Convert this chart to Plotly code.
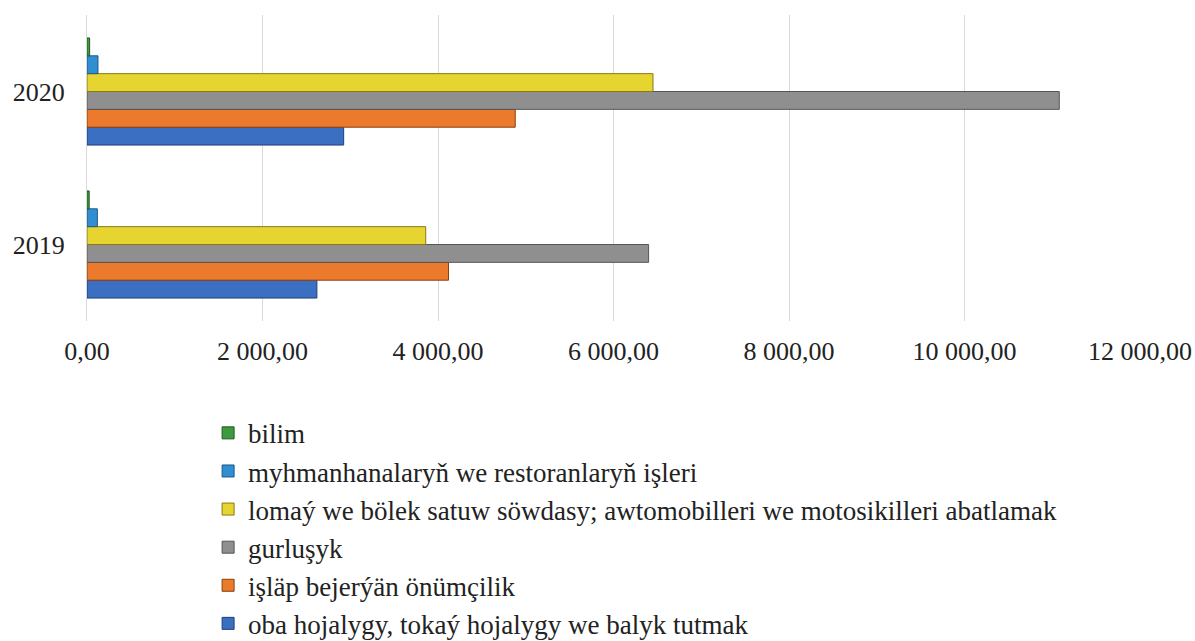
import plotly.graph_objects as go

years = ["2019", "2020"]
series_names = [
    "oba hojalygy, tokaý hojalygy we balyk tutmak",
    "işläp bejerýän önümçilik",
    "gurluşyk",
    "lomaý we bölek satuw söwdasy; awtomobilleri we motosikilleri abatlamak",
    "myhmanhanalaryň we restoranlaryň işleri",
    "bilim",
]
oba = [2620, 2925]
islap = [4120, 4880]
gurlusyk = [6400, 11080]
lomay = [3860, 6450]
myhman = [118, 125]
bilim = [25, 30]
series_values = [oba, islap, gurlusyk, lomay, myhman, bilim]
x_ticks = [0, 2000, 4000, 6000, 8000, 10000, 12000]

colors = ["#3b6fc2", "#ec7a2c", "#8f8f8f", "#e6d431", "#2f8fd0", "#3f9a3f"]
edges = ["#1f3f7a", "#8a3e0c", "#555555", "#8a7a10", "#1a5a8a", "#1f5a1f"]

SERIF = "Liberation Serif"

fig = go.Figure()
for i, (name, vals) in enumerate(zip(series_names, series_values)):
    fig.add_trace(go.Bar(
        y=years, x=vals, name=name, orientation="h",
        marker=dict(color=colors[i], line=dict(color=edges[i], width=1)),
        legendgroup=f"g{i}",
    ))

fig.update_layout(
    width=1195, height=660,
    margin=dict(l=87, r=55, t=15, b=335),
    barmode="group", bargap=0.3, bargroupgap=0,
    paper_bgcolor="white", plot_bgcolor="white",
    font=dict(family=SERIF, size=26, color="#222222"),
    separators=", ",
    showlegend=True,
    legend=dict(
        x=0.115, y=-0.287, xanchor="left", yanchor="top",
        traceorder="reversed", tracegroupgap=6,
        font=dict(family=SERIF, size=27, color="#222222"),
        itemwidth=30,
    ),
    xaxis=dict(
        range=[0, 12000], tickvals=x_ticks, tickformat=",.2f",
        showgrid=True, gridcolor="#d9d9d9", gridwidth=1,
        zeroline=False, showline=False, ticks="",
        ticklabelstandoff=12, automargin=False,
        tickfont=dict(family=SERIF, size=26, color="#222222"),
    ),
    yaxis=dict(
        showline=True, linecolor="#d9d9d9", linewidth=1,
        ticks="", ticklabelstandoff=16, automargin=False,
        tickfont=dict(family=SERIF, size=26, color="#222222"),
    ),
)

fig.write_html(
    "out.html",
    config={"displayModeBar": False},
    post_script=(
        "document.body.style.margin='0';"
        "document.body.style.overflow='hidden';"
        "document.documentElement.style.overflow='hidden';"
    ),
)
